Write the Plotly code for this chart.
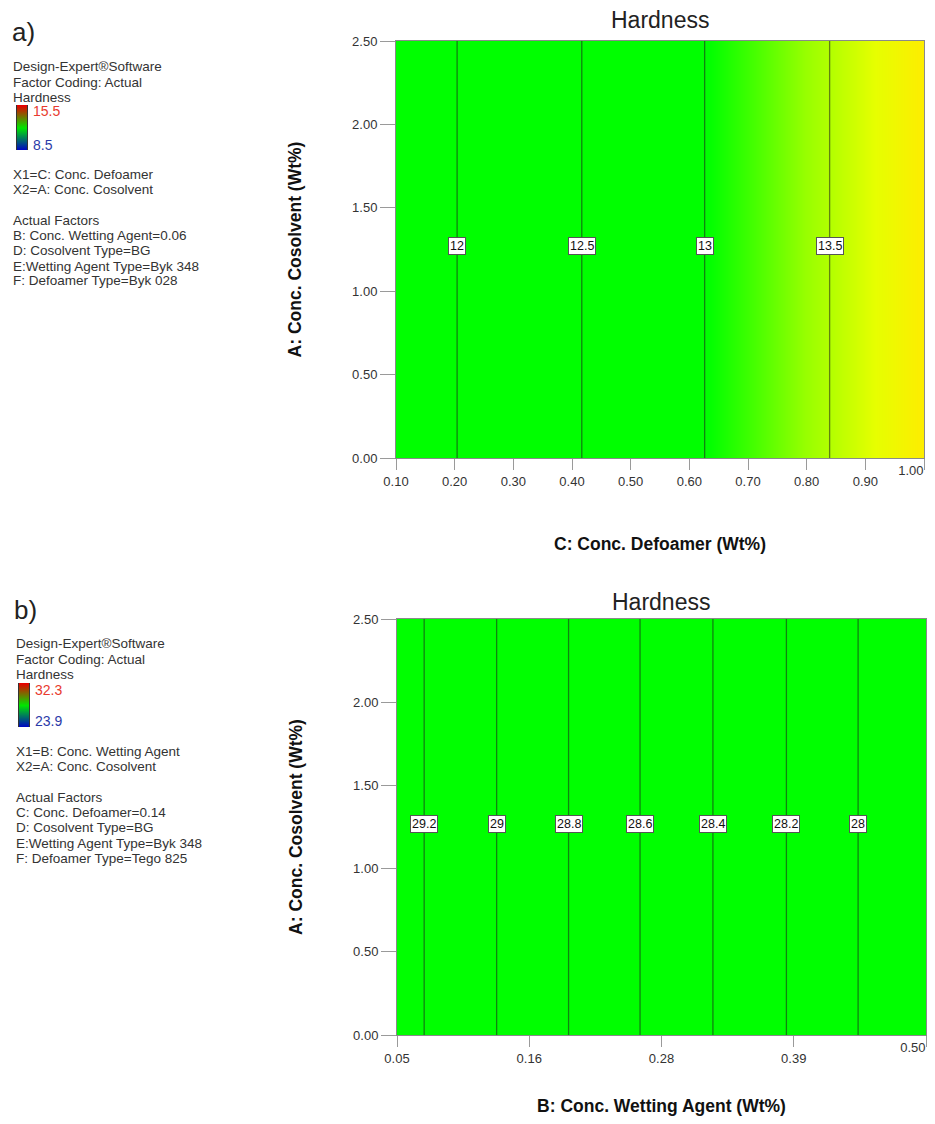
import numpy as np
import plotly.graph_objects as go

# ---------------- data ----------------
# Panel a: Hardness vs C: Conc. Defoamer (constant along A)
defoamer_x = [0.10, 0.20, 0.30, 0.40, 0.50, 0.60, 0.70, 0.80, 0.90, 1.00]
hardness_a = [11.76, 11.99, 12.23, 12.46, 12.70, 12.94, 13.17, 13.41, 13.64, 13.88]
cosolvent_y = [0.0, 2.5]
levels_a = [12, 12.5, 13, 13.5]
level_text_a = ["12", "12.5", "13", "13.5"]
range_a = [8.5, 15.5]
xticks_a = [0.10, 0.20, 0.30, 0.40, 0.50, 0.60, 0.70, 0.80, 0.90, 1.00]
xticktext_a = ["0.10", "0.20", "0.30", "0.40", "0.50", "0.60", "0.70", "0.80", "0.90", "1.00"]

# Panel b: Hardness vs B: Conc. Wetting Agent
wetting_x = [0.05, 0.1625, 0.275, 0.3875, 0.50]
hardness_b = [29.275, 28.91, 28.54, 28.18, 27.81]
levels_b = [28.0, 28.2, 28.4, 28.6, 28.8, 29.0, 29.2]
level_text_b = ["28", "28.2", "28.4", "28.6", "28.8", "29", "29.2"]
range_b = [23.9, 32.3]
xticks_b = [0.05, 0.1625, 0.275, 0.3875, 0.50]
xticktext_b = ["0.05", "0.16", "0.28", "0.39", "0.50"]

yticks = [0.0, 0.5, 1.0, 1.5, 2.0, 2.5]
yticktext = ["0.00", "0.50", "1.00", "1.50", "2.00", "2.50"]

text_a = ["Design-Expert\u00aeSoftware", "Factor Coding: Actual", "Hardness",
          "X1=C: Conc. Defoamer", "X2=A: Conc. Cosolvent",
          "Actual Factors", "B: Conc. Wetting Agent=0.06", "D: Cosolvent Type=BG",
          "E:Wetting Agent Type=Byk 348", "F: Defoamer Type=Byk 028"]
text_b = ["Design-Expert\u00aeSoftware", "Factor Coding: Actual", "Hardness",
          "X1=B: Conc. Wetting Agent", "X2=A: Conc. Cosolvent",
          "Actual Factors", "C: Conc. Defoamer=0.14", "D: Cosolvent Type=BG",
          "E:Wetting Agent Type=Byk 348", "F: Defoamer Type=Tego 825"]

# ---------------- styles ----------------
PAGE_W, PAGE_H = 935, 1124
OFF = 8  # default page body margin
W, H = PAGE_W - OFF, PAGE_H - 2 * OFF
FONT = "Liberation Sans, Arial, sans-serif"
plot_scale = [
    [0.0, "rgb(0,0,255)"],
    [0.45, "rgb(0,255,0)"],
    [0.645, "rgb(0,255,0)"],
    [0.70, "rgb(150,255,0)"],
    [0.74, "rgb(230,255,0)"],
    [0.77, "rgb(255,236,0)"],
    [1.0, "rgb(255,0,0)"],
]
legend_scale = [[0.0, "rgb(0,0,200)"], [0.5, "rgb(0,230,0)"], [1.0, "rgb(230,0,0)"]]
line_col = "rgba(30,30,30,0.55)"


def px_x(p):
    return (p - OFF) / W


def px_y(p):
    return 1 - (p - OFF) / H


fig = go.Figure()


def add_panel(xv, hv, rng, levels, ltext, xa, ya):
    z = [hv for _ in cosolvent_y]
    fig.add_trace(go.Heatmap(x=xv, y=cosolvent_y, z=z, zmin=rng[0], zmax=rng[1],
                             colorscale=plot_scale, zsmooth="best", showscale=False,
                             xaxis=xa, yaxis=ya, hoverinfo="skip"))
    fig.add_trace(go.Contour(x=xv, y=cosolvent_y, z=z, showscale=False,
                             contours=dict(start=min(levels), end=max(levels) + 1e-6,
                                           size=(levels[1] - levels[0]), coloring="lines"),
                             colorscale=[[0, line_col], [1, line_col]],
                             line=dict(width=1.3), xaxis=xa, yaxis=ya, hoverinfo="skip"))
    hx, vx = (hv, xv) if hv[0] < hv[-1] else (hv[::-1], xv[::-1])
    for lv, lt in zip(levels, ltext):
        xpos = float(np.interp(lv, hx, vx))
        fig.add_annotation(x=xpos, y=1.27, xref=xa, yref=ya, text=lt, showarrow=False,
                           font=dict(family=FONT, size=12.5, color="#111"),
                           bgcolor="white", bordercolor="#555", borderwidth=1, borderpad=1)


add_panel(defoamer_x, hardness_a, range_a, levels_a, level_text_a, "x", "y")
add_panel(wetting_x, hardness_b, range_b, levels_b, level_text_b, "x2", "y2")

# legend colour bars
for xa, ya, rng in [("x3", "y3", range_a), ("x4", "y4", range_b)]:
    fig.add_trace(go.Heatmap(x=[0, 1], y=rng, z=[[rng[0], rng[0]], [rng[1], rng[1]]],
                             zmin=rng[0], zmax=rng[1], colorscale=legend_scale,
                             zsmooth="best", showscale=False, xaxis=xa, yaxis=ya,
                             hoverinfo="skip"))

# invisible traces holding the overlay axes for the right-edge tick labels
fig.add_trace(go.Scatter(x=[xticks_a[-1]], y=[0], mode="markers", marker=dict(opacity=0),
                         xaxis="x5", yaxis="y", hoverinfo="skip"))
fig.add_trace(go.Scatter(x=[xticks_b[-1]], y=[0], mode="markers", marker=dict(opacity=0),
                         xaxis="x6", yaxis="y2", hoverinfo="skip"))

axis_common = dict(showgrid=False, zeroline=False, showline=True, mirror=True,
                   linecolor="#8a8a8a", linewidth=1, ticks="outside", tickcolor="#9a9a9a",
                   automargin=False,
                   tickfont=dict(family=FONT, size=13, color="#333"))
edge_axis = dict(showgrid=False, zeroline=False, showline=False, ticks="outside",
                 ticklen=23, tickcolor="rgba(0,0,0,0)", automargin=False,
                 ticklabelposition="outside left", side="bottom",
                 tickfont=dict(family=FONT, size=13, color="#333"))
title_font = dict(family=FONT, size=17.5, color="#111", weight="bold")
small_axis = dict(showticklabels=False, ticks="", showgrid=False, zeroline=False,
                  showline=True, mirror=True, linecolor="#333", linewidth=1, automargin=False)

fig.update_layout(
    template="none",
    width=W, height=H, margin=dict(l=0, r=0, t=0, b=0, pad=0), autosize=False,
    paper_bgcolor="white", plot_bgcolor="white", showlegend=False,
    xaxis=dict(domain=[px_x(396), px_x(924)], range=[0.10, 1.00], tickvals=xticks_a,
               ticktext=xticktext_a[:-1] + [""], ticklen=11, anchor="y",
               title=dict(text="<b>C: Conc. Defoamer (Wt%)</b>", font=title_font, standoff=50),
               **axis_common),
    xaxis5=dict(overlaying="x", anchor="y", range=[0.10, 1.00], tickvals=xticks_a[-1:],
                ticktext=[xticktext_a[-1]], **edge_axis),
    yaxis=dict(domain=[px_y(458), px_y(41)], range=[0, 2.5], tickvals=yticks,
               ticktext=yticktext, ticklen=15, anchor="x",
               title=dict(text="<b>A: Conc. Cosolvent (Wt%)</b>", font=title_font, standoff=45),
               **axis_common),
    xaxis2=dict(domain=[px_x(397), px_x(926)], range=[0.05, 0.50], tickvals=xticks_b,
                ticktext=xticktext_b[:-1] + [""], ticklen=11, anchor="y2",
                title=dict(text="<b>B: Conc. Wetting Agent (Wt%)</b>", font=title_font, standoff=50),
                **axis_common),
    xaxis6=dict(overlaying="x2", anchor="y2", range=[0.05, 0.50], tickvals=xticks_b[-1:],
                ticktext=[xticktext_b[-1]], **edge_axis),
    yaxis2=dict(domain=[px_y(1035), px_y(619)], range=[0, 2.5], tickvals=yticks,
                ticktext=yticktext, ticklen=15, anchor="x2",
                title=dict(text="<b>A: Conc. Cosolvent (Wt%)</b>", font=title_font, standoff=45),
                **axis_common),
    xaxis3=dict(domain=[px_x(17), px_x(27)], range=[0, 1], visible=False, anchor="y3",
                automargin=False),
    yaxis3=dict(domain=[px_y(150), px_y(105)], range=range_a, anchor="x3", **small_axis),
    xaxis4=dict(domain=[px_x(19), px_x(29)], range=[0, 1], visible=False, anchor="y4",
                automargin=False),
    yaxis4=dict(domain=[px_y(727), px_y(683)], range=range_b, anchor="x4", **small_axis),
)

# titles
for yc, xc in [(20, 660), (602, 661)]:
    fig.add_annotation(x=px_x(xc), y=px_y(yc), xref="paper", yref="paper", text="Hardness",
                       showarrow=False, xanchor="center", yanchor="middle",
                       font=dict(family=FONT, size=23, color="#222"))

# panel letters
for lbl, xl, yc in [("a)", 10, 32), ("b)", 12, 610)]:
    fig.add_annotation(x=px_x(xl), y=px_y(yc), xref="paper", yref="paper", text=lbl,
                       showarrow=False, xanchor="left", yanchor="middle",
                       font=dict(family=FONT, size=26, color="#222"))

# side texts
ys_a = [67, 82, 97, 174, 189, 220, 235, 250, 266, 281]
ys_b = [643, 659, 674, 751, 766, 797, 812, 827, 843, 858]
for lines, ys, xl in [(text_a, ys_a, 11), (text_b, ys_b, 14)]:
    for t, yc in zip(lines, ys):
        fig.add_annotation(x=px_x(xl), y=px_y(yc), xref="paper", yref="paper", text=t,
                           showarrow=False, xanchor="left", yanchor="middle",
                           font=dict(family=FONT, size=13.5, color="#333"))

# colour bar labels
for rng, xl, ytop, ybot in [(range_a, 31, 111, 145), (range_b, 33, 690, 721)]:
    fig.add_annotation(x=px_x(xl), y=px_y(ytop), xref="paper", yref="paper",
                       text=f"{rng[1]:.1f}", showarrow=False, xanchor="left", yanchor="middle",
                       font=dict(family=FONT, size=14, color="#e83a2e"))
    fig.add_annotation(x=px_x(xl), y=px_y(ybot), xref="paper", yref="paper",
                       text=f"{rng[0]:.1f}", showarrow=False, xanchor="left", yanchor="middle",
                       font=dict(family=FONT, size=14, color="#2b3aa8"))

fig.write_html("out.html")
